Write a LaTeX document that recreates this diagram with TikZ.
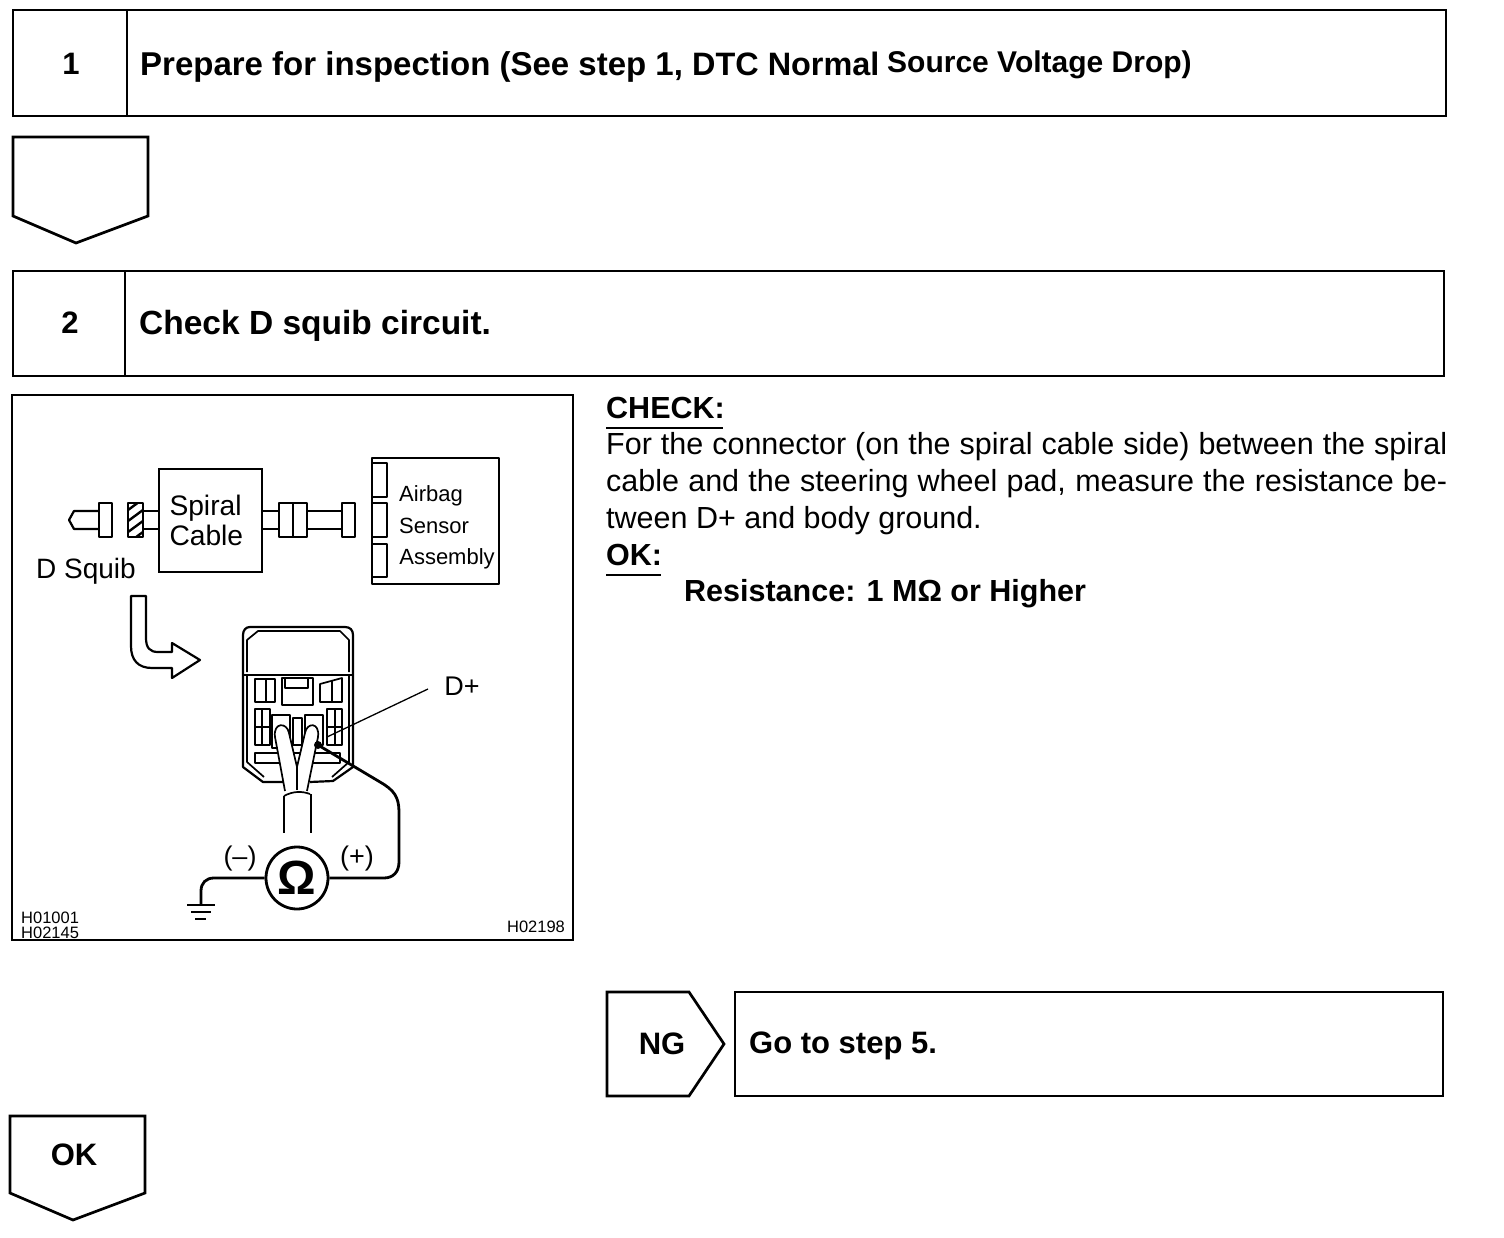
\documentclass[tikz,border=0pt]{standalone}
\usepackage{fontspec}
\setmainfont{Liberation Sans}
\tikzset{
  frame/.style={draw=black,line width=2.7pt,fill=none,line join=miter},
  thin part/.style={draw=black,line width=2.2pt,line join=round},
  fine part/.style={draw=black,line width=1.7pt,line join=round},
  headtext/.style={inner sep=0pt,anchor=west,font=\fontsize{33}{36}\selectfont\bfseries},
  numtext/.style={inner sep=0pt,anchor=center,font=\fontsize{31}{36}\selectfont\bfseries},
  bodytext/.style={inner sep=0pt,anchor=west,font=\fontsize{30.5}{34}\selectfont},
  boldbody/.style={inner sep=0pt,anchor=west,font=\fontsize{30.5}{34}\selectfont\bfseries},
  smalltext/.style={inner sep=0pt,anchor=center,font=\fontsize{22}{24}\selectfont},
  signtext/.style={inner sep=0pt,anchor=center,font=\fontsize{27}{30}\selectfont},
  codetext/.style={inner sep=0pt,font=\fontsize{16.5}{15.5}\selectfont},
}
\newcommand{\justline}[1]{\makebox[841pt][s]{#1}}
\begin{document}
\begin{tikzpicture}[x=1pt,y=-1pt]
\useasboundingbox (0,0) rectangle (1504,1238);
% Header 1
\draw[frame] (13,10) rectangle (1446,116);
\draw[frame] (127,10) -- (127,116);
\node[numtext] (n1) at (71,64) {1};
\node[headtext] (h1) at (140,67) {Prepare for inspection (See step 1,};
\node[headtext,font=\fontsize{32.4}{36}\selectfont\bfseries] (h1b) at (692,64) {DTC Normal};
\node[headtext,font=\fontsize{30}{34}\selectfont\bfseries] (h1c) at (887,65) {Source Voltage Drop)};
% arrow pentagon 1
\draw[frame] (13,137) -- (148,137) -- (148,216) -- (76,243) -- (13,216) -- cycle;
% Header 2
\draw[frame] (13,271) rectangle (1444,376);
\draw[frame] (125,271) -- (125,376);
\node[numtext] (n2) at (70,323) {2};
\node[headtext,font=\fontsize{33.5}{36}\selectfont\bfseries] (h2) at (139,326) {Check D squib circuit.};
% Figure frame
\draw[frame] (12,395) rectangle (573,940);
% Spiral cable
\node[draw=black,line width=2.4pt,text width=82pt,minimum height=103pt,inner xsep=10.5pt,inner ysep=0pt,
      align=left,font=\fontsize{28.2}{30.5}\selectfont] (spiral) at (210.5,520.5) {Spiral\\Cable};
% squib plug
\draw[thin part] (99,511) -- (74,511) -- (69,520) -- (74,529) -- (99,529);
\draw[thin part] (99,503) rectangle (112,537);
% hatched plug
\begin{scope}
\clip (128,503) rectangle (143,537);
\draw[line width=2.4pt] (124,513) -- (147,496) (124,524) -- (147,507) (124,535) -- (147,518) (124,546) -- (147,529);
\end{scope}
\draw[thin part] (128,503) rectangle (143,537);
\draw[thin part] (143,511) -- (159,511) (143,529) -- (159,529);
% right connectors
\draw[thin part] (262,511) -- (279,511) (262,529) -- (279,529);
\draw[thin part] (279,503) rectangle (307,537);
\draw[thin part] (293,503) -- (293,537);
\draw[thin part] (307,511) -- (342,511) (307,529) -- (342,529);
\draw[thin part] (342,503) rectangle (355,537);
% airbag box
\draw[thin part] (372,458) rectangle (499,584);
\draw[thin part] (372,463) rectangle (387,497);
\draw[thin part] (372,503) rectangle (387,537);
\draw[thin part] (372,544) rectangle (387,577);
\node[smalltext] (ab1) at (431,496) {Airbag};
\node[smalltext] (ab2) at (434,526) {Sensor};
\node[smalltext] (ab3) at (447,559) {Assembly};
\node[inner sep=0pt,font=\fontsize{28}{32}\selectfont] (dsq) at (86,571) {D Squib};
% bent arrow
\draw[thin part] (131,596) -- (146,596) -- (146,638) .. controls (146,648) and (150,652) .. (158,652) -- (172,652) -- (172,643) -- (200,660) -- (172,678) -- (172,668) -- (152,668) .. controls (138,668) and (131,660) .. (131,646) -- cycle;
% connector outline
\draw[thin part] (285,782) -- (263,782) -- (243,767) -- (243,635) .. controls (243,630) and (246,627) .. (250,627) -- (345,627) .. controls (350,627) and (353,630) .. (353,635) -- (353,767) -- (333,781) -- (310,782);
\draw[fine part] (247,672) -- (247,640) -- (258,631) -- (340,631) -- (349,640) -- (349,672);
\draw[thin part,line width=2.6pt] (243,675) -- (353,675);
\draw[fine part] (247,675) -- (247,762) -- (264,777) (349,675) -- (349,762) -- (332,777);
% latches
\draw[fine part] (255,679) rectangle (275,702);
\draw[fine part] (266,679) -- (266,702);
\draw[fine part] (320,702) -- (320,684) -- (342,678) -- (342,702) -- cycle;
\draw[fine part] (332,680) -- (332,702);
\draw[fine part] (282,678) rectangle (313,705);
\draw[fine part] (285,678) rectangle (308,688);
% side terminals
\draw[fine part] (255,709) rectangle (270,745);
\draw[fine part] (255,727) -- (270,727) (262,709) -- (262,745);
\draw[fine part] (327,709) rectangle (342,745);
\draw[fine part] (327,727) -- (342,727) (335,709) -- (335,745);
% center terminals
\draw[fine part] (272,715) rectangle (290,748);
\draw[fine part] (293,718) rectangle (302,745);
\draw[fine part] (305,715) rectangle (323,745);
\draw[fine part] (255,753) rectangle (340,763);
% wires
\draw[fine part,fill=white] (285,791) -- (275,737) .. controls (273,722) and (287,722) .. (289,733) -- (297,767) -- (305,733) .. controls (307,722) and (320,722) .. (318,737) -- (307,791);
\draw[fine part] (297,767) -- (297,790);
\draw[fine part] (284,796) .. controls (293,791) and (302,791) .. (310,794);
\draw[fine part] (284,796) -- (284,833) (311,794) -- (311,833);
% D+ leader
\node[signtext] (dp) at (462,686) {D+};
\coordinate (dptip) at (327,737);
\draw[line width=1.3pt] (428,689) -- (dptip);
% meter
\node[draw=black,line width=2.8pt,circle,minimum size=62pt,inner sep=0pt,font=\fontsize{48}{48}\selectfont\bfseries] (ohm) at (297,878) {Ω};
\coordinate (probe) at (318,745);
\coordinate (gnd) at (201,905);
\fill (318,745) circle (4pt);
\draw[line width=2.8pt,black,line join=round] (probe) -- (380,782) .. controls (394,790) and (399,797) .. (399,812) -- (399,862) .. controls (399,872) and (393,878) .. (384,878) -- (ohm.east);
\draw[line width=2.8pt,black] (ohm.west) -- (214,878) .. controls (206,878) and (201,883) .. (201,891) -- (gnd);
\draw[line width=2.2pt] (187,905) -- (215,905);
\draw[line width=1.5pt] (191,912) -- (211,912) (195,919) -- (206,919);
\node[signtext] (minus) at (240,859) {(–)};
\node[signtext] (plus) at (357,859) {(+)};
\node[codetext,align=left,anchor=south west] (c1) at (21,939) {H01001\\H02145};
\node[codetext,anchor=center] (c3) at (536,927) {H02198};
% check text
\node[boldbody] (chk) at (606,408) {CHECK:};
\draw[line width=1.3pt] (606,428) -- (723,428);
\node[bodytext] (b1) at (606,447) {\justline{For the connector (on the spiral cable side) between the spiral}};
\node[bodytext] (b2) at (606,484) {\justline{cable and the steering wheel pad, measure the resistance be-}};
\node[bodytext] (b3) at (606,521) {tween D+ and body ground.};
\node[boldbody] (ok) at (606,555) {OK:};
\draw[line width=1.3pt] (606,575) -- (661,575);
\node[boldbody] (res) at (684,594) {Resistance: 1 MΩ or Higher};
% NG
\draw[frame] (607,992) -- (689,992) -- (724,1044) -- (689,1096) -- (607,1096) -- cycle;
\node[numtext] (ng) at (662,1044) {NG};
\draw[frame] (735,992) rectangle (1443,1096);
\node[headtext,font=\fontsize{31}{36}\selectfont\bfseries] (go) at (749,1046) {Go to step 5.};
% OK
\draw[frame] (10,1116) -- (145,1116) -- (145,1193) -- (73,1220) -- (10,1193) -- cycle;
\node[numtext] (okb) at (74,1155) {OK};
\end{tikzpicture}
\end{document}
